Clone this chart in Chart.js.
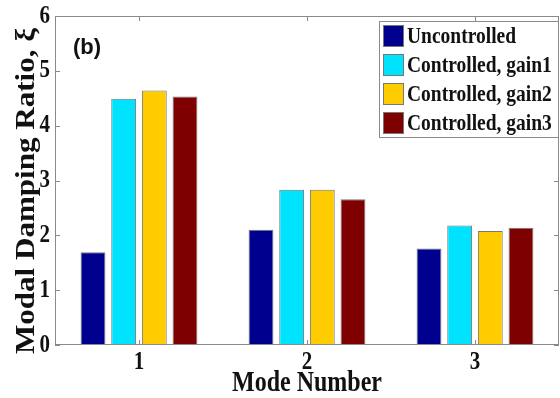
<!DOCTYPE html>
<html>
<head>
<meta charset="utf-8">
<script src="https://cdn.jsdelivr.net/npm/chart.js@4.4.0/dist/chart.umd.min.js"></script>
<style>
  html, body { margin: 0; padding: 0; background: #fff; }
  #wrap { width: 560px; height: 398px; position: relative; }
</style>
</head>
<body>
<div id="wrap"><canvas id="chart"></canvas></div>
<script>
// Mode damping ratios
const modes = ['1', '2', '3'];
const uncontrolled = [1.69, 2.10, 1.76];
const gain1 = [4.49, 2.83, 2.18];
const gain2 = [4.64, 2.83, 2.08];
const gain3 = [4.53, 2.66, 2.14];
const yTicks = [0, 1, 2, 3, 4, 5, 6];

const seriesNames = ['Uncontrolled', 'Controlled, gain1', 'Controlled, gain2', 'Controlled, gain3'];
const seriesColors = ['#00008f', '#00e3ff', '#ffcc00', '#7f0000'];

const serif = "'Liberation Serif', 'Times New Roman', serif";
const STRETCH = 1.2; // the source figure is a bit taller than wide

// text squashed/stretched along its height, like the source picture
function stretchText(ctx, text, x, y, font, align, stretch, angle) {
    ctx.save();
    ctx.translate(x, y);
    if (angle) ctx.rotate(angle);
    if (angle) ctx.scale(stretch, 1); else ctx.scale(1, stretch);
    ctx.font = font;
    ctx.textAlign = align;
    ctx.textBaseline = 'middle';
    ctx.fillText(text, 0, 0);
    ctx.restore();
}

// box around the plot with inward ticks, like matlab
const framePlugin = {
    id: 'frame',
    afterDraw(chart) {
        const ctx = chart.ctx;
        const a = chart.chartArea;
        const x = chart.scales.x;
        const y = chart.scales.y;
        ctx.save();
        ctx.strokeStyle = '#8a8a8a';
        ctx.lineWidth = 1;
        ctx.strokeRect(a.left + 0.5, a.top + 0.5, a.right - a.left - 1, a.bottom - a.top - 1);
        ctx.beginPath();
        yTicks.forEach(v => {
            const py = Math.round(y.getPixelForValue(v)) + 0.5;
            ctx.moveTo(a.left, py); ctx.lineTo(a.left + 5, py);
            ctx.moveTo(a.right, py); ctx.lineTo(a.right - 5, py);
        });
        modes.forEach((m, i) => {
            const px = Math.round(x.getPixelForValue(i)) + 0.5;
            ctx.moveTo(px, a.bottom); ctx.lineTo(px, a.bottom - 5);
            ctx.moveTo(px, a.top); ctx.lineTo(px, a.top + 5);
        });
        ctx.stroke();

        ctx.fillStyle = '#111';
        const tickFont = 'bold 21px ' + serif;
        yTicks.forEach(v => {
            stretchText(ctx, String(v), a.left - 5, y.getPixelForValue(v), tickFont, 'right', STRETCH);
        });
        modes.forEach((m, i) => {
            stretchText(ctx, m, x.getPixelForValue(i), a.bottom + 17, tickFont, 'center', STRETCH);
        });
        stretchText(ctx, 'Mode Number', (a.left + a.right) / 2, 384, 'bold 24px ' + serif, 'center', STRETCH);
        stretchText(ctx, 'Modal Damping Ratio, ξ', 27, 191, 'bold 27px ' + serif, 'center', 1.15, -Math.PI / 2);

        // (b) panel label
        ctx.font = "bold 22px 'Liberation Sans', Arial, sans-serif";
        ctx.textAlign = 'left';
        ctx.textBaseline = 'middle';
        ctx.fillText('(b)', a.left + 18, a.top + 32);

        // legend box
        const lx = 379, ly = 21, lw = 179, lh = 116;
        ctx.fillStyle = '#fff';
        ctx.fillRect(lx, ly, lw, lh);
        ctx.strokeStyle = '#8a8a8a';
        ctx.strokeRect(lx + 0.5, ly + 0.5, lw, lh);
        chart.data.datasets.forEach((ds, i) => {
            const sy = ly + 4 + i * 29;
            ctx.fillStyle = ds.backgroundColor;
            ctx.fillRect(lx + 4, sy, 21, 22);
            ctx.strokeStyle = '#777';
            ctx.strokeRect(lx + 4.5, sy + 0.5, 20, 21);
            ctx.fillStyle = '#111';
            stretchText(ctx, ds.label, lx + 28, sy + 12, 'bold 19.5px ' + serif, 'left', STRETCH);
        });
        ctx.restore();
    }
};

new Chart(document.getElementById('chart'), {
    type: 'bar',
    data: {
        labels: modes,
        datasets: [uncontrolled, gain1, gain2, gain3].map((vals, i) => ({
            label: seriesNames[i],
            data: vals,
            backgroundColor: seriesColors[i],
            borderColor: '#777',
            borderWidth: 1,
            categoryPercentage: 0.73,
            barPercentage: 0.81
        }))
    },
    options: {
        responsive: true,
        maintainAspectRatio: false,
        animation: false,
        layout: { padding: { top: 16, right: 1, left: 0, bottom: 0 } },
        plugins: {
            legend: { display: false },
            tooltip: { enabled: false }
        },
        scales: {
            x: {
                grid: { display: false, drawTicks: false },
                border: { display: false },
                ticks: { display: false },
                afterFit(scale) { scale.height = 53; }
            },
            y: {
                min: 0,
                max: 6,
                grid: { display: false, drawTicks: false },
                border: { display: false },
                ticks: { display: false, stepSize: 1 },
                afterFit(scale) { scale.width = 55; }
            }
        }
    },
    plugins: [framePlugin]
});
</script>
</body>
</html>
